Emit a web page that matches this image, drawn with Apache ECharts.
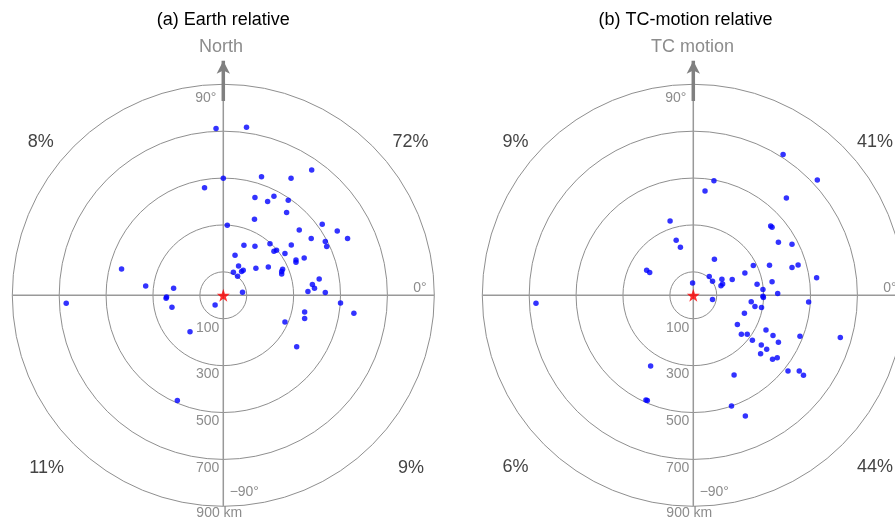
<!DOCTYPE html>
<html><head><meta charset="utf-8">
<script src="https://cdn.jsdelivr.net/npm/echarts@6/dist/echarts.min.js"></script>
<style>html,body{margin:0;padding:0;background:#fff}#c{width:895px;height:523px}</style>
</head><body><div id="c"></div>
<script>
// ---- data (km east, km north of TC centre) ----
const panelTitles = ['(a) Earth relative', '(b) TC-motion relative'];
const arrowLabels = ['North', 'TC motion'];
const ringKm = [100, 300, 500, 700, 900];
const maxKm = 900;
const angleTicks = [-90, 0, 90, 180, 270];
// quadrant percentages: NE, NW, SW, SE
const quadLabelsA = ['72%', '8%', '11%', '9%'];
const quadLabelsB = ['41%', '9%', '6%', '44%'];
const arrowKm = [829, 1000];
const pointsA = [[-31,712],[99,717],[0,499],[-80,459],[163,506],[289,499],[377,534],[135,417],[189,400],[216,422],
 [277,405],[270,353],[133,324],[17,299],[422,303],[324,279],[486,274],[530,242],[375,242],[435,229],
 [441,208],[88,213],[135,209],[199,220],[290,215],[216,188],[227,192],[263,178],[50,171],[310,151],
 [310,141],[345,159],[65,125],[139,115],[192,121],[253,111],[249,101],[249,91],[43,98],[78,101],
 [85,107],[61,81],[409,70],[380,46],[389,30],[361,16],[435,12],[82,13],[500,-33],[557,-77],
 [347,-71],[347,-99],[263,-114],[313,-219],[-35,-41],[-142,-155],[-196,-449],[-434,112],[-331,40],[-212,30],
 [-242,-7],[-244,-13],[-219,-51],[-670,-34]];
const pointsB = [[383,601],[529,492],[88,489],[50,445],[397,415],[-99,317],[330,296],[336,290],[-73,235],[-55,205],
 [363,226],[421,218],[90,154],[256,127],[325,128],[447,129],[421,119],[220,95],[68,80],[82,60],
 [122,68],[125,48],[118,41],[166,67],[272,47],[336,58],[526,75],[-3,52],[297,25],[297,-4],
 [360,8],[82,-18],[247,-27],[263,-48],[291,-52],[492,-29],[218,-77],[188,-125],[205,-166],[230,-166],
 [310,-148],[340,-171],[252,-192],[363,-200],[455,-175],[627,-180],[290,-212],[313,-230],[287,-249],[338,-273],
 [358,-266],[404,-323],[452,-323],[470,-341],[174,-340],[163,-472],[222,-515],[299,-9],
 [-199,107],[-186,97],[-671,-34],[-182,-302],[-202,-447],[-196,-449]];

// ---- layout ----
const R = 211;
const arrowMaxKm = 1100;
const centers = [[223.3, 295.3], [693.3, 295.3]];
const FONT = '"Liberation Sans", Arial, sans-serif';
const GRAY = '#8c8c8c';

function toPolar(p) {
  let th = Math.atan2(p[1], p[0]) * 180 / Math.PI;
  if (th < -90) th += 360;
  return [Math.hypot(p[0], p[1]), th];
}
const STAR = 'path://M0,-10 L2.35,-3.24 L9.51,-3.09 L3.8,1.24 L5.88,8.09 L0,4 L-5.88,8.09 L-3.8,1.24 L-9.51,-3.09 L-2.35,-3.24 Z';

const polar = [], angleAxis = [], radiusAxis = [], series = [], title = [];
[pointsA, pointsB].forEach((pts, k) => {
  const c = centers[k];
  const gi = k * 3, di = k * 3 + 1, ai = k * 3 + 2;
  // grid polar (rings 100..900)
  polar.push({ center: c, radius: [R * ringKm[0] / maxKm, R] });
  angleAxis.push({ polarIndex: gi, type: 'value', min: 0, max: 360, startAngle: 270, clockwise: false, show: false });
  radiusAxis.push({ polarIndex: gi, type: 'value', min: ringKm[0], max: ringKm[ringKm.length - 1], interval: 200,
    axisLine: { show: false }, axisTick: { show: false },
    splitLine: { show: true, lineStyle: { color: '#8f8f8f', width: 1 } },
    axisLabel: { show: true, margin: -4, align: 'right', verticalAlign: 'top', padding: [2, 0, 0, 0],
      color: GRAY, fontSize: 14, fontFamily: FONT,
      showMinLabel: true, showMaxLabel: true,
      formatter: v => (v === maxKm ? '' : String(v)) }
  });
  // data polar
  polar.push({ center: c, radius: [0, R] });
  angleAxis.push({ polarIndex: di, type: 'value', min: angleTicks[0], max: angleTicks[angleTicks.length - 1], interval: 90,
    startAngle: 270, clockwise: false,
    axisLine: { show: false }, axisTick: { show: false },
    splitLine: { show: true, lineStyle: { color: '#999999', width: 1.5 } },
    axisLabel: { show: true, margin: -21, color: GRAY, fontSize: 14, fontFamily: FONT,
      formatter: v => v === 90 ? '{n|90°}' : v === 0 ? '{e|0°}' : v === -90 ? '{s|−90°}' : '',
      rich: {
        n: { padding: [0, 35, 0, 0], color: GRAY, fontSize: 14, fontFamily: FONT },
        e: { padding: [0, 0, 14, 0], color: GRAY, fontSize: 14, fontFamily: FONT },
        s: { padding: [0, 0, 0, 42], color: GRAY, fontSize: 14, fontFamily: FONT }
      } }
  });
  radiusAxis.push({ polarIndex: di, type: 'value', min: 0, max: maxKm, interval: 300,
    axisLine: { show: false }, axisTick: { show: false }, splitLine: { show: false },
    axisLabel: { show: true, margin: -4, align: 'center', verticalAlign: 'top', color: GRAY, fontSize: 14, fontFamily: FONT,
      showMaxLabel: true, formatter: v => (v === maxKm ? maxKm + ' km' : '') }
  });
  // arrow polar (same centre and scale, extended beyond 900 km)
  polar.push({ center: c, radius: [0, R * arrowMaxKm / maxKm] });
  angleAxis.push({ polarIndex: ai, type: 'value', min: angleTicks[0], max: angleTicks[angleTicks.length - 1],
    startAngle: 270, clockwise: false, show: false });
  radiusAxis.push({ polarIndex: ai, type: 'value', min: 0, max: arrowMaxKm, show: false });

  series.push({ type: 'scatter', coordinateSystem: 'polar', polarIndex: di, symbolSize: 5.5,
    itemStyle: { color: '#0000ff' }, data: pts.map(toPolar), z: 4, silent: true });
  series.push({ type: 'scatter', coordinateSystem: 'polar', polarIndex: di, symbol: STAR, symbolSize: 13,
    itemStyle: { color: '#ff0000' }, data: [[0, 0]], z: 5, silent: true });
  series.push({ type: 'line', coordinateSystem: 'polar', polarIndex: ai, clip: false, silent: true, z: 3,
    lineStyle: { color: '#808080', width: 3.5 }, itemStyle: { color: '#808080' },
    data: [{ value: [arrowKm[0], 90], symbol: 'none' }, { value: [arrowKm[1], 90], symbol: 'arrow', symbolSize: [10, 13] }] });
});

// titles
const tStyle = { fontSize: 18, fontWeight: 'normal', color: '#000', fontFamily: FONT };
title.push({ text: panelTitles[0], left: 223.3, top: 11, textAlign: 'center', padding: 0, textStyle: tStyle });
title.push({ text: panelTitles[1], left: 685.5, top: 11, textAlign: 'center', padding: 0, textStyle: tStyle });
title.push({ text: arrowLabels[0], left: 221, top: 38, textAlign: 'center', padding: 0, textStyle: Object.assign({}, tStyle, { color: GRAY }) });
title.push({ text: arrowLabels[1], left: 692.5, top: 38, textAlign: 'center', padding: 0, textStyle: Object.assign({}, tStyle, { color: GRAY }) });
// quadrant labels
const qStyle = { fontSize: 18, fontWeight: 'normal', color: '#444', fontFamily: FONT };
const qPos = [
  [[410.5, 133], [40.8, 133], [46.7, 459], [411, 459]],
  [[875, 133], [515.5, 133], [515.5, 458], [875, 458]]
];
[quadLabelsA, quadLabelsB].forEach((labs, k) => {
  labs.forEach((t, i) => title.push({ text: t, left: qPos[k][i][0], top: qPos[k][i][1], textAlign: 'center', padding: 0, textStyle: qStyle }));
});

const chart = echarts.init(document.getElementById('c'), null, { renderer: 'canvas' });
chart.setOption({ animation: false, backgroundColor: '#fff', title, polar, angleAxis, radiusAxis, series });
</script></body></html>
